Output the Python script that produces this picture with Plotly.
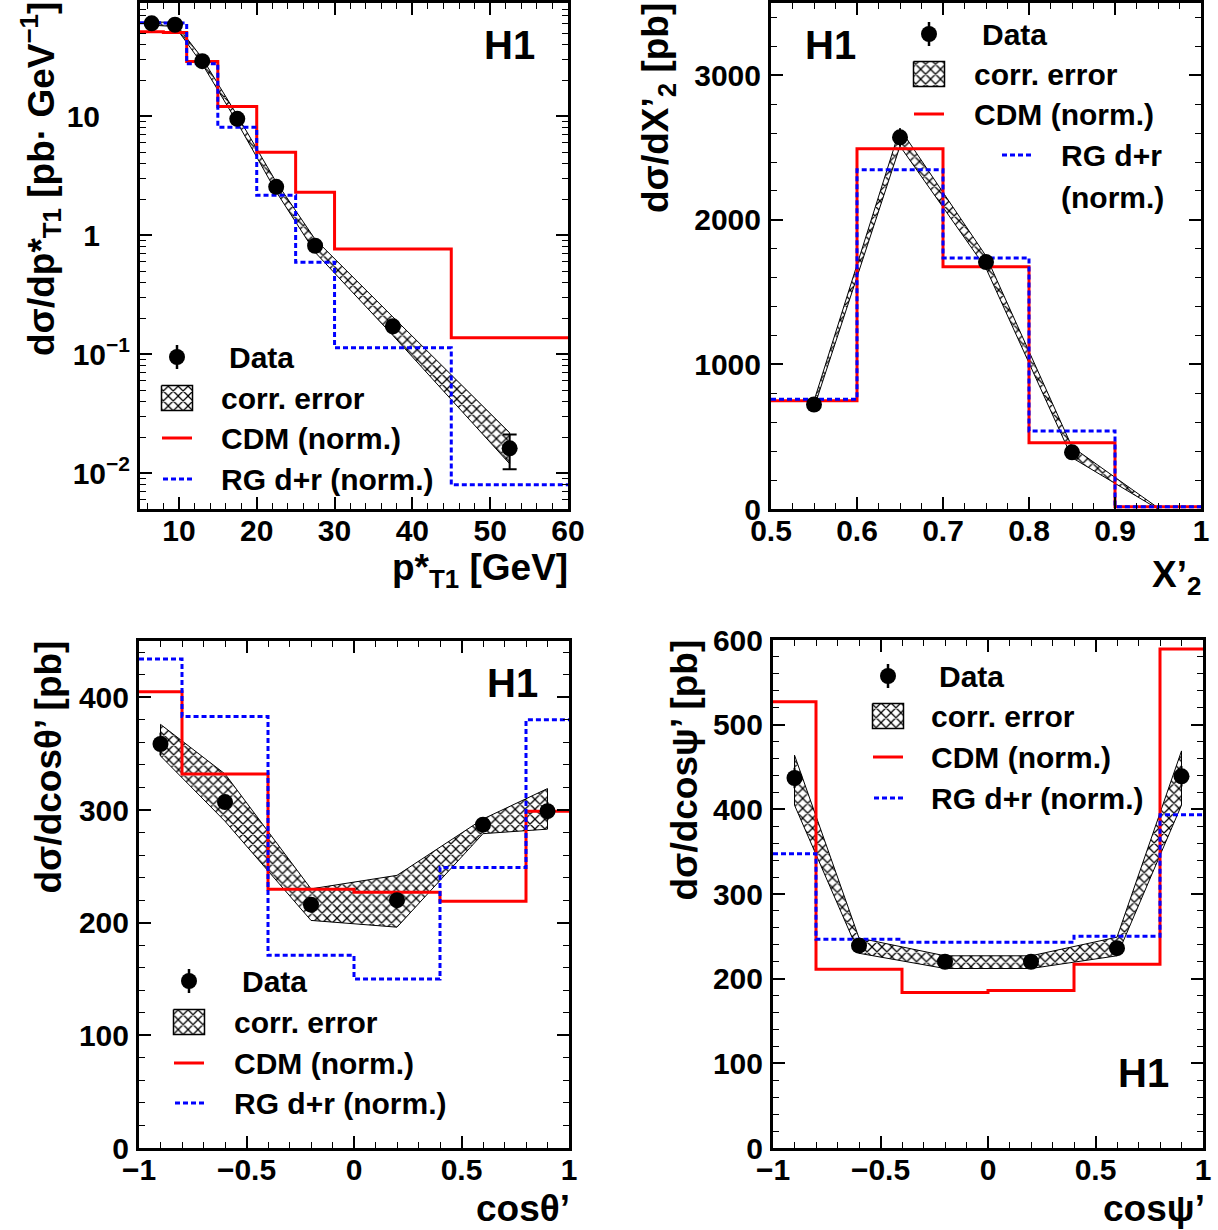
import math
import plotly.graph_objects as go

FONT = "Liberation Sans, Arial, Helvetica, sans-serif"
RED = "#ff0000"
BLUE = "#0000ff"

# ---------------- Panel 1: d sigma / d pT*1 (log) ----------------
pt_edges = [5, 8, 11, 15, 20, 25, 30, 45, 60]
pt_centers = [6.5, 9.5, 13, 17.5, 22.5, 27.5, 37.5, 52.5]
pt_data = [60.7, 59.1, 29.2, 9.55, 2.56, 0.818, 0.172, 0.0162]
pt_err_hi = [1.2, 1.2, 0.6, 0.2, 0.06, 0.02, 0.006, 0.005]
pt_err_lo = [1.2, 1.2, 0.6, 0.2, 0.06, 0.02, 0.006, 0.0054]
pt_band_hi = [62.9, 61.2, 30.9, 10.2, 2.81, 0.928, 0.206, 0.0219]
pt_band_lo = [58.6, 57.1, 27.6, 8.9, 2.33, 0.721, 0.144, 0.0120]
pt_cdm = [51.6, 50.9, 29.0, 12.15, 5.0, 2.31, 0.767, 0.138]
pt_rg = [61.5, 61.0, 27.7, 8.12, 2.18, 0.595, 0.1137, 0.00798]
pt_tickvals = [0.01, 0.1, 1, 10]
pt_ticktext = ["10<sup>\u22122</sup>", "10<sup>\u22121</sup>", "1\u2003", "10\u2003"]

# ---------------- Panel 2: d sigma / d X'2 ----------------
x2_edges = [0.5, 0.6, 0.7, 0.8, 0.9, 1.0]
x2_centers = [0.55, 0.65, 0.75, 0.85]
x2_data = [723, 2571, 1708, 392]
x2_err = [25, 62, 35, 20]
x2_band_x = [0.55, 0.65, 0.75, 0.85, 0.95]
x2_band_hi = [748, 2630, 1750, 430, 8]
x2_band_lo = [700, 2510, 1665, 355, 0]
x2_cdm = [749, 2491, 1676, 458, 16]
x2_rg = [760, 2346, 1737, 540, 16]

# ---------------- Panel 3: d sigma / d cos theta' ----------------
ct_edges = [-1, -0.8, -0.4, 0, 0.4, 0.8, 1]
ct_centers = [-0.9, -0.6, -0.2, 0.2, 0.6, 0.9]
ct_data = [358.6, 307, 216, 220, 287, 299]
ct_err = [10, 6, 5, 5, 6, 8]
ct_band_hi = [376, 332, 230, 242, 292, 319]
ct_band_lo = [348, 290, 202, 196, 279, 283]
ct_cdm = [405, 332, 229.7, 227, 219, 299]
ct_rg = [434, 383, 171, 150, 249, 380]

# ---------------- Panel 4: d sigma / d cos psi' ----------------
cp_edges = [-1, -0.8, -0.4, 0, 0.4, 0.8, 1]
cp_centers = [-0.9, -0.6, -0.2, 0.2, 0.6, 0.9]
cp_data = [437, 239, 220, 220, 236, 439]
cp_err = [12, 6, 5, 5, 6, 12]
cp_band_hi = [464, 248, 227, 227, 249, 469]
cp_band_lo = [405, 230, 212, 212, 227, 405]
cp_cdm = [527, 211, 183.6, 186, 217, 589.5]
cp_rg = [347.6, 246.5, 243, 243, 250, 393.5]

LEGEND_LABELS = ["Data", "corr. error", "CDM (norm.)", "RG d+r (norm.)"]

PAT = dict(shape="x", fgcolor="black", bgcolor="white", size=7, solidity=0.32, fillmode="replace")

fig = go.Figure()


def add_panel(n, bx, blo, bhi, edges, cdm, rg, cx, data, elo, ehi, capw):
    xa, ya = ("x", "y") if n == 1 else ("x%d" % n, "y%d" % n)
    fig.add_trace(go.Scatter(
        x=list(bx) + list(bx[::-1]) + [bx[0]],
        y=list(bhi) + list(blo[::-1]) + [bhi[0]],
        mode="lines", fill="toself", fillcolor="white", fillpattern=PAT,
        line=dict(color="black", width=1), xaxis=xa, yaxis=ya, hoverinfo="skip"))
    fig.add_trace(go.Scatter(
        x=edges, y=list(cdm) + [cdm[-1]], mode="lines", line_shape="hv",
        line=dict(color=RED, width=3), xaxis=xa, yaxis=ya))
    fig.add_trace(go.Scatter(
        x=edges, y=list(rg) + [rg[-1]], mode="lines", line_shape="hv",
        line=dict(color=BLUE, width=3, dash="5px,3px"), xaxis=xa, yaxis=ya))
    fig.add_trace(go.Scatter(
        x=cx, y=data, mode="markers", marker=dict(size=16, color="black"),
        error_y=dict(type="data", array=ehi, arrayminus=elo, width=capw,
                     thickness=2, color="black"),
        xaxis=xa, yaxis=ya))


add_panel(1, pt_centers, pt_band_lo, pt_band_hi, pt_edges, pt_cdm, pt_rg,
          pt_centers, pt_data, pt_err_lo, pt_err_hi, 7)
add_panel(2, x2_band_x, x2_band_lo, x2_band_hi, x2_edges, x2_cdm, x2_rg,
          x2_centers, x2_data, x2_err, x2_err, 0)
add_panel(3, ct_centers, ct_band_lo, ct_band_hi, ct_edges, ct_cdm, ct_rg,
          ct_centers, ct_data, ct_err, ct_err, 0)
add_panel(4, cp_centers, cp_band_lo, cp_band_hi, cp_edges, cp_cdm, cp_rg,
          cp_centers, cp_data, cp_err, cp_err, 0)

# ---------------- Layout ----------------
W, H = 1218, 1230
# panel frames in pixels: (left, right, top, bottom)
FRAMES = {1: (140, 568, 3, 509), 2: (771, 1201, 3, 509),
          3: (139, 569, 641, 1148), 4: (773, 1203, 640, 1148)}


def xdom(n):
    l, r, t, b = FRAMES[n]
    return [l / W, r / W]


def ydom(n):
    l, r, t, b = FRAMES[n]
    return [1 - b / H, 1 - t / H]


def axis(**kw):
    d = dict(showline=True, linewidth=3, linecolor="black", mirror="allticks",
             ticks="inside", ticklen=12, tickwidth=1.5, tickcolor="black",
             showgrid=False, zeroline=False, fixedrange=True, automargin=False,
             tickfont=dict(family=FONT, size=30, color="black", weight="bold"))
    d.update(kw)
    return d


def minor(dt):
    return dict(ticks="inside", ticklen=6, tickwidth=1, tickcolor="black", dtick=dt)


XSO, YSO = -7, 1
fig.update_layout(
    width=W, height=H, margin=dict(l=0, r=0, t=0, b=0, pad=0, autoexpand=False),
    paper_bgcolor="white", plot_bgcolor="rgba(0,0,0,0)", showlegend=False,
    xaxis=axis(domain=xdom(1), range=[5, 60], dtick=10, tick0=0, minor=minor(2),
               anchor="y", ticklabelstandoff=XSO),
    yaxis=axis(domain=ydom(1), type="log",
               range=[math.log10(0.005), math.log10(90)],
               tickmode="array", tickvals=pt_tickvals, ticktext=pt_ticktext,
               minor=minor("D1"), anchor="x", ticklabelstandoff=YSO),
    xaxis2=axis(domain=xdom(2), range=[0.5, 1.0], dtick=0.1, tick0=0.5,
                minor=minor(0.025), anchor="y2", ticklabelstandoff=XSO),
    yaxis2=axis(domain=ydom(2), range=[0, 3500], dtick=1000, tick0=0,
                minor=minor(200), anchor="x2", ticklabelstandoff=YSO),
    xaxis3=axis(domain=xdom(3), range=[-1, 1], dtick=0.5, tick0=0,
                minor=minor(0.1), anchor="y3", ticklabelstandoff=XSO),
    yaxis3=axis(domain=ydom(3), range=[0, 450], dtick=100, tick0=0,
                minor=minor(20), anchor="x3", ticklabelstandoff=YSO),
    xaxis4=axis(domain=xdom(4), range=[-1, 1], dtick=0.5, tick0=0,
                minor=minor(0.1), anchor="y4", ticklabelstandoff=XSO),
    yaxis4=axis(domain=ydom(4), range=[0, 600], dtick=100, tick0=0,
                minor=minor(20), anchor="x4", ticklabelstandoff=YSO),
    # pixel overlay used for legends and titles
    xaxis5=dict(domain=[0, 1], range=[0, W], visible=False, fixedrange=True,
                anchor="y5", automargin=False),
    yaxis5=dict(domain=[0, 1], range=[H, 0], visible=False, fixedrange=True,
                anchor="x5", automargin=False),
)

annotations = []


def txt(x, y, text, size, xanchor="left", yanchor="middle", angle=0):
    annotations.append(dict(
        x=x, y=y, xref="x5", yref="y5", text=text, showarrow=False,
        xanchor=xanchor, yanchor=yanchor, textangle=angle, align="left",
        font=dict(family=FONT, size=size, color="black", weight="bold")))


# H1 labels
for (hx, hy) in [(509, 45), (830, 45), (512, 683), (1143, 1073)]:
    txt(hx, hy, "H1", 40, xanchor="center")

# axis titles
txt(570, 570, "p*<sub>T1</sub> [GeV]", 37, xanchor="right")
txt(1203, 577, "X\u2019<sub>2</sub>", 37, xanchor="right")
txt(572, 1208, "cos\u03b8\u2019", 37, xanchor="right")
txt(1207, 1208, "cos\u03c8\u2019", 37, xanchor="right")
txt(40, 0, "d\u03c3/dp*<sub>T1</sub> [pb\u00b7 GeV<sup>\u22121</sup>]", 37,
    xanchor="center", yanchor="top", angle=-90)
txt(658, 1, "d\u03c3/dX\u2019<sub>2</sub> [pb]", 37, xanchor="center", yanchor="top", angle=-90)
txt(48, 639, "d\u03c3/dcos\u03b8\u2019 [pb]", 37, xanchor="center", yanchor="top", angle=-90)
txt(684, 638, "d\u03c3/dcos\u03c8\u2019 [pb]", 37, xanchor="center", yanchor="top", angle=-90)

# legends: symbol column centre, text column, row centres
LEG = {
    1: dict(sx=177, tx=219, rows=[357, 398, 438, 479], rg_dx=0),
    2: dict(sx=929, tx=972, rows=[34, 74, 114, 155], rg_dx=87),
    3: dict(sx=189, tx=232, rows=[981, 1022, 1063, 1103], rg_dx=0),
    4: dict(sx=888, tx=929, rows=[676, 716, 757, 798], rg_dx=0),
}

for n, L in LEG.items():
    sx, tx, rows, dx = L["sx"], L["tx"], L["rows"], L["rg_dx"]
    fig.add_trace(go.Scatter(
        x=[sx], y=[rows[0]], mode="markers", marker=dict(size=16, color="black"),
        error_y=dict(type="constant", value=12, width=0, thickness=2.5, color="black"),
        xaxis="x5", yaxis="y5", hoverinfo="skip"))
    bx0, bx1, by0, by1 = sx - 15.5, sx + 15.5, rows[1] - 12.5, rows[1] + 12.5
    fig.add_trace(go.Scatter(
        x=[bx0, bx1, bx1, bx0, bx0], y=[by0, by0, by1, by1, by0], mode="lines",
        fill="toself", fillcolor="white", fillpattern=PAT,
        line=dict(color="black", width=1.5), xaxis="x5", yaxis="y5", hoverinfo="skip"))
    fig.add_trace(go.Scatter(
        x=[sx - 15, sx + 15], y=[rows[2], rows[2]], mode="lines",
        line=dict(color=RED, width=3), xaxis="x5", yaxis="y5", hoverinfo="skip"))
    fig.add_trace(go.Scatter(
        x=[sx - 14 + dx, sx + 15 + dx], y=[rows[3], rows[3]], mode="lines",
        line=dict(color=BLUE, width=3, dash="5px,3px"), xaxis="x5", yaxis="y5",
        hoverinfo="skip"))
    txt(tx + 8, rows[0], LEGEND_LABELS[0], 30)
    txt(tx, rows[1], LEGEND_LABELS[1], 30)
    txt(tx, rows[2], LEGEND_LABELS[2], 30)
    if n == 2:
        txt(tx + dx, rows[3], "RG d+r", 30)
        txt(tx + dx, rows[3] + 42, "(norm.)", 30)
    else:
        txt(tx, rows[3], LEGEND_LABELS[3], 30)

fig.update_layout(annotations=annotations)

fig.write_html("out.html", config={"displayModeBar": False},
               post_script="document.body.style.margin='0';document.body.style.overflow='hidden';")
